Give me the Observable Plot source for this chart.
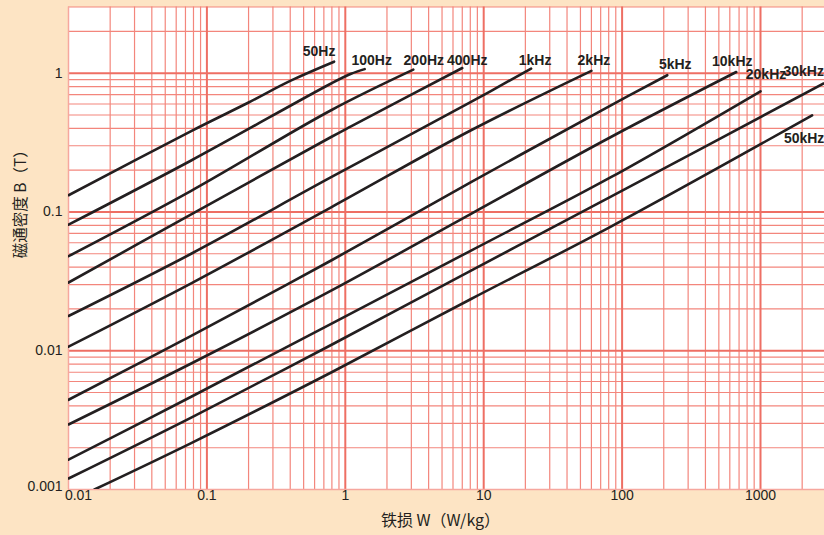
<!DOCTYPE html>
<html>
<head>
<meta charset="utf-8">
<script src="https://cdn.jsdelivr.net/npm/d3@7"></script>
<script src="https://cdn.jsdelivr.net/npm/@observablehq/plot@0.6"></script>
<style>
  html, body { margin: 0; padding: 0; background: #fde4c4; }
  #chart svg { display: block; }
</style>
</head>
<body>
<div id="chart"></div>
<script>
// Iron loss W (W/kg) vs. flux density B (T), one curve per excitation frequency.
const freqLabels = ["50Hz", "100Hz", "200Hz", "400Hz", "1kHz", "2kHz", "5kHz", "10kHz", "20kHz", "30kHz", "50kHz"];

// Iron loss W (W/kg) at the read points of each curve
const lossW = [
  [0.01, 0.077, 0.2, 0.4, 0.83],
  [0.01, 0.077, 0.79, 1.1, 1.38],
  [0.01, 0.077, 0.79, 3.1],
  [0.01, 0.077, 0.79, 1.1, 7.0],
  [0.01, 0.077, 0.79, 8.1, 22],
  [0.01, 0.077, 0.79, 8.1, 60],
  [0.01, 0.077, 0.79, 8.1, 83, 212],
  [0.01, 0.077, 0.79, 8.1, 83, 668],
  [0.01, 0.077, 0.79, 8.1, 83, 1000],
  [0.01, 0.077, 0.79, 8.1, 83, 2860],
  [0.0154, 0.077, 0.79, 8.1, 83, 2360]
];

// Flux density B (T) at the same points
const fluxB = [
  [0.132, 0.383, 0.615, 0.88, 1.21],
  [0.081, 0.235, 0.843, 0.99, 1.07],
  [0.048, 0.142, 0.541, 1.06],
  [0.031, 0.096, 0.347, 0.414, 1.09],
  [0.0178, 0.050, 0.178, 0.621, 1.08],
  [0.0107, 0.0306, 0.108, 0.388, 1.04],
  [0.00443, 0.0128, 0.0447, 0.164, 0.587, 0.967],
  [0.00294, 0.00809, 0.0271, 0.097, 0.347, 1.02],
  [0.00164, 0.00466, 0.0156, 0.0527, 0.178, 0.741],
  [0.0012, 0.0033, 0.011, 0.0378, 0.129, 0.843],
  [0.001, 0.00216, 0.00697, 0.0236, 0.0785, 0.497]
];

const xTicks = [0.01, 0.1, 1, 10, 100, 1000];
const yTicks = [0.001, 0.01, 0.1, 1];
const xLabel = "铁损 W（W/kg）";
const yLabel = "磁通密度 B（T）";

// Label offsets (px) from each curve's end point
const labelNudge = [
  [-15, -10], [7, -8.5], [10.5, -9], [5, -7], [4, -8], [2.5, -10],
  [8, -10.5], [-4, -10], [5.5, -17], [-20, -11.5], [-8, 23]
];

const ink = "#231f20";
const gridMinor = "#f3867c";
const gridMajor = "#ee6f64";
const frameEdge = "#f6a79e";

// Table for the line mark
const rows = freqLabels.flatMap((f, i) => lossW[i].map((w, j) => ({series: f, W: w, B: fluxB[i][j]})));

// 1–9 grid per decade
const xMinor = [], xMajor = [], yMinor = [], yMajor = [];
for (let e = -2; e <= 3; e++) for (let k = 1; k <= 9; k++) {
  const v = k * Math.pow(10, e);
  if (v <= 0.01 || v > 2900) continue;
  (k === 1 ? xMajor : xMinor).push(v);
}
for (let e = -3; e <= 0; e++) for (let k = 1; k <= 9; k++) {
  const v = k * Math.pow(10, e);
  if (v <= 0.001 || v > 3) continue;
  (k === 1 ? yMajor : yMinor).push(v);
}

const labelMarks = freqLabels.map((f, i) => {
  const n = lossW[i].length - 1;
  return Plot.text([f], {
    x: () => lossW[i][n], y: () => fluxB[i][n], text: d => d,
    dx: labelNudge[i][0], dy: labelNudge[i][1],
    fontSize: 14, fontWeight: "bold", fill: ink, ariaLabel: "freq-label",
    fontFamily: "Liberation Sans, Arial, sans-serif"
  });
});

const chart = Plot.plot({
  width: 824,
  height: 535,
  marginLeft: 68,
  marginRight: 0,
  marginTop: 6.5,
  marginBottom: 46,
  style: {background: "#fde4c4", fontFamily: "Liberation Sans, Arial, sans-serif", color: ink},
  x: {type: "log", domain: [0.01, 2900], axis: null},
  y: {type: "log", domain: [0.001, 3], axis: null},
  marks: [
    Plot.frame({fill: "white", stroke: null}),
    Plot.ruleX(xMinor, {stroke: gridMinor, strokeWidth: 1.2}),
    Plot.ruleY(yMinor, {stroke: gridMinor, strokeWidth: 1.2}),
    Plot.ruleX(xMajor, {stroke: gridMajor, strokeWidth: 2}),
    Plot.ruleY(yMajor, {stroke: gridMajor, strokeWidth: 2}),
    Plot.ruleX([0.01], {stroke: frameEdge, strokeWidth: 1.5}),
    Plot.ruleY([0.001], {stroke: frameEdge, strokeWidth: 1.5}),
    Plot.line(rows, {x: "W", y: "B", z: "series", stroke: ink, strokeWidth: 2.6, curve: "catmull-rom", clip: true}),
    ...labelMarks,
    // tick labels
    Plot.text(xTicks.filter(d => d !== 0.01), {x: d => d, text: d => String(d), frameAnchor: "bottom", dy: 10, fontSize: 14, fill: ink}),
    Plot.text([0.01], {x: d => d, text: d => String(d), frameAnchor: "bottom", dy: 10, dx: 10, fontSize: 14, fill: ink}),
    Plot.text(yTicks.filter(d => d !== 0.001), {y: d => d, text: d => String(d), frameAnchor: "left", dx: -6, textAnchor: "end", fontSize: 14, fill: ink}),
    Plot.text([0.001], {y: d => d, text: d => String(d), frameAnchor: "left", dx: -6, dy: -3, textAnchor: "end", fontSize: 14, fill: ink}),
    // axis titles
    Plot.text([xLabel], {text: d => d, frameAnchor: "bottom", dy: 36, dx: -6, fontSize: 16, fill: ink,
      fontFamily: "Noto Sans CJK SC, sans-serif"}),
    Plot.text([yLabel], {text: d => d, frameAnchor: "left", dx: -47, dy: 10, rotate: -90, fontSize: 15.5, fill: ink,
      fontFamily: "Noto Sans CJK SC, sans-serif"})
  ]
});

// Condense the frequency labels horizontally around their anchor
chart.querySelectorAll('g[aria-label="freq-label"] text').forEach(t => {
  const x = +(t.getAttribute("x") || 0), y = +(t.getAttribute("y") || 0);
  const tr = t.getAttribute("transform") || "";
  t.setAttribute("x", 0);
  t.setAttribute("y", 0);
  t.setAttribute("transform", `${tr} translate(${x},${y}) scale(0.87,1)`);
});

document.getElementById("chart").appendChild(chart);
</script>
</body>
</html>
